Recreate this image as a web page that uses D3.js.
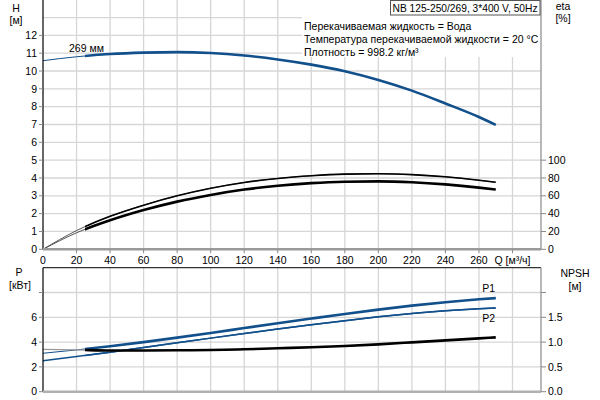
<!DOCTYPE html>
<html><head><meta charset="utf-8">
<script src="https://cdn.jsdelivr.net/npm/d3@7"></script>
<style>
html,body{margin:0;padding:0;background:#fff;}
svg{display:block;font-family:"Liberation Sans",Arial,sans-serif;font-size:10.5px;}
</style></head>
<body><svg id="c" width="600" height="400"></svg>
<script>
// ---- data ----
const flowQ   = [0,20,40,60,80,100,120,140,160,180,200,220,240,260,270];
const headH   = [10.58,10.8,10.95,11.03,11.06,11.01,10.87,10.65,10.36,9.99,9.5,8.9,8.18,7.42,6.98];
const etaTop  = [0,21,37,49.5,60,68.5,75,79.5,82.5,84.3,84.8,83.8,81.3,77.5,75.2];
const etaLow  = [0,18.5,32.5,44,53.5,61,67,71.3,74.2,75.8,76.2,75.2,72.8,69.2,67];
const powerP1 = [3.1,3.37,3.67,4.0,4.36,4.74,5.13,5.52,5.9,6.27,6.62,6.94,7.22,7.45,7.55];
const powerP2 = [2.5,2.83,3.19,3.56,3.94,4.32,4.69,5.05,5.4,5.73,6.04,6.31,6.53,6.69,6.75];
const npshR   = [0.855,0.845,0.83,0.83,0.835,0.84,0.855,0.875,0.895,0.92,0.955,0.995,1.035,1.075,1.095];
const qTicks  = [0,20,40,60,80,100,120,140,160,180,200,220,240,260];
const hTicks  = [0,1,2,3,4,5,6,7,8,9,10,11,12];
const etaTicks= [0,20,40,60,80,100];
const pTicks  = [0,2,4,6,8];
const nTicks  = [0,0.5,1.0,1.5,2.0];
const infoLines = ["Перекачиваемая жидкость = Вода","Температура перекачиваемой жидкости = 20 °C","Плотность = 998.2 кг/м³"];
const titleText = "NB 125-250/269, 3*400 V, 50Hz";
const qStart = 25; // start of operating range (thick part)

const svg = d3.select("#c");
const L=43, R=541, T1=0, B1=249.3, T2=267.7, B2=391.7;
const x  = d3.scaleLinear().domain([0,297]).range([L,R]);
const yH = d3.scaleLinear().domain([0,14]).range([B1,T1-0.3]);
const yE = d3.scaleLinear().domain([0,280]).range([B1,T1-0.3]);
const yP = d3.scaleLinear().domain([0,10]).range([B2,T2]);
const yN = d3.scaleLinear().domain([0,2.5]).range([B2,T2]);
const blue="#12508c", grid="#d6d6d6";

const defs=svg.append("defs");
defs.append("clipPath").attr("id","op").append("rect")
  .attr("x",x(qStart)).attr("y",0).attr("width",600).attr("height",400);

// ---- grids ----
const g=svg.append("g");
const qGrid=d3.range(20,281,20);
g.selectAll(".vg1").data(qGrid).join("line").attr("x1",d=>x(d)).attr("x2",d=>x(d))
  .attr("y1",T1).attr("y2",B1).attr("stroke",grid).attr("stroke-width",1.3);
g.selectAll(".hg1").data(d3.range(1,14)).join("line").attr("x1",L).attr("x2",R)
  .attr("y1",d=>yH(d)).attr("y2",d=>yH(d)).attr("stroke",grid).attr("stroke-width",1.3);
g.selectAll(".vg2").data(qGrid).join("line").attr("x1",d=>x(d)).attr("x2",d=>x(d))
  .attr("y1",T2).attr("y2",B2).attr("stroke",grid).attr("stroke-width",1.3);
g.selectAll(".hg2").data([2,4,6,8]).join("line").attr("x1",L).attr("x2",R)
  .attr("y1",d=>yP(d)).attr("y2",d=>yP(d)).attr("stroke",grid).attr("stroke-width",1.3);

svg.append("rect").attr("x",302).attr("y",0).attr("width",R-302).attr("height",57).attr("fill","#fff");

// ---- curves ----
function line(ys,ysc){
  return d3.line().x((d,i)=>x(flowQ[i])).y(d=>ysc(d)).curve(d3.curveMonotoneX)(ys);
}
function curve(ys,ysc,color,thin,thick,thinColor){
  svg.append("path").attr("d",line(ys,ysc)).attr("fill","none")
    .attr("stroke",thinColor||color).attr("stroke-width",thin);
  svg.append("path").attr("d",line(ys,ysc)).attr("fill","none")
    .attr("stroke",color).attr("stroke-width",thick).attr("clip-path","url(#op)");
}
curve(headH,yH,blue,1,2.6);
curve(etaTop,yE,"#000",0.9,1.6,"#444");
curve(etaLow,yE,"#000",0.9,2.6,"#444");
curve(powerP1,yP,blue,1,2.6);
curve(powerP2,yP,blue,1.5,1.5);
curve(npshR,yN,"#000",1.2,2.6,"#999");

// ---- axes ----
const ax=svg.append("g");
ax.append("line").attr("x1",L).attr("x2",L).attr("y1",T1).attr("y2",B1).attr("stroke","#000").attr("stroke-width",1.2);
ax.append("line").attr("x1",R).attr("x2",R).attr("y1",T1).attr("y2",B1).attr("stroke","#a0a0a0").attr("stroke-width",1.5);
ax.append("line").attr("x1",L).attr("x2",R).attr("y1",B1).attr("y2",B1).attr("stroke","#9a9a9a").attr("stroke-width",2.5);
ax.selectAll(".ht").data(hTicks).join("line").attr("x1",L-4).attr("x2",L).attr("y1",d=>yH(d)).attr("y2",d=>yH(d)).attr("stroke","#888");
ax.selectAll(".hl").data(hTicks).join("text").attr("x",L-6).attr("y",d=>yH(d)).attr("dy","0.35em")
  .attr("text-anchor","end").text(d=>d);
ax.selectAll(".et").data(etaTicks).join("line").attr("x1",R).attr("x2",R+5).attr("y1",d=>yE(d)).attr("y2",d=>yE(d)).attr("stroke","#888");
ax.selectAll(".el").data(etaTicks).join("text").attr("x",R+7).attr("y",d=>yE(d)).attr("dy","0.35em").text(d=>d);
ax.selectAll(".qt").data(qGrid).join("line").attr("x1",d=>x(d)).attr("x2",d=>x(d)).attr("y1",B1).attr("y2",B1+4).attr("stroke","#888");
ax.selectAll(".ql").data(qTicks).join("text").attr("x",d=>x(d)).attr("y",B1+11).attr("dy","0.35em")
  .attr("text-anchor","middle").text(d=>d);
ax.append("text").attr("x",x(280)).attr("y",B1+11).attr("dy","0.35em").attr("text-anchor","middle").text("Q [м³/ч]");

ax.append("line").attr("x1",L).attr("x2",R).attr("y1",T2).attr("y2",T2).attr("stroke","#333").attr("stroke-width",1.2);
ax.append("line").attr("x1",L).attr("x2",L).attr("y1",T2).attr("y2",B2).attr("stroke","#000").attr("stroke-width",1.2);
ax.append("line").attr("x1",R).attr("x2",R).attr("y1",T2).attr("y2",B2).attr("stroke","#a0a0a0").attr("stroke-width",1.5);
ax.append("line").attr("x1",L).attr("x2",R).attr("y1",B2).attr("y2",B2).attr("stroke","#b0b0b0").attr("stroke-width",2.5);
ax.selectAll(".pt").data(pTicks).join("line").attr("x1",L-4).attr("x2",L).attr("y1",d=>yP(d)).attr("y2",d=>yP(d)).attr("stroke","#888");
ax.selectAll(".pl").data(pTicks.filter(d=>d<8)).join("text").attr("x",L-6).attr("y",d=>yP(d)).attr("dy","0.35em")
  .attr("text-anchor","end").text(d=>d);
ax.selectAll(".nt").data(nTicks).join("line").attr("x1",R).attr("x2",R+5).attr("y1",d=>yN(d)).attr("y2",d=>yN(d)).attr("stroke","#888");
ax.selectAll(".nl").data(nTicks.filter(d=>d<2)).join("text").attr("x",R+7).attr("y",d=>yN(d)).attr("dy","0.35em").text(d=>d.toFixed(1));

const tt=svg.append("g").attr("text-anchor","middle");
tt.append("text").attr("x",16).attr("y",8).attr("dy","0.35em").text("H");
tt.append("text").attr("x",16).attr("y",20).attr("dy","0.35em").text("[м]");
tt.append("text").attr("x",563).attr("y",6).attr("dy","0.35em").text("eta");
tt.append("text").attr("x",563).attr("y",18).attr("dy","0.35em").text("[%]");
tt.append("text").attr("x",19).attr("y",272).attr("dy","0.35em").text("P");
tt.append("text").attr("x",20).attr("y",285).attr("dy","0.35em").text("[кВт]");
tt.append("text").attr("x",575).attr("y",273).attr("dy","0.35em").text("NPSH");
tt.append("text").attr("x",575).attr("y",286).attr("dy","0.35em").text("[м]");

svg.append("text").attr("x",x(15.5)).attr("y",yH(11.0)).attr("dy","-0.1em").text("269 мм");
svg.append("text").attr("x",x(262)).attr("y",yP(7.45)-7).text("P1");
svg.append("text").attr("x",x(262)).attr("y",yP(6.69)+10).attr("dy","0.35em").text("P2");

svg.append("rect").attr("x",390.5).attr("y",0.5).attr("width",149.5).attr("height",14.5)
  .attr("fill","#fff").attr("stroke","#555");
svg.append("text").attr("x",392.5).attr("y",8).attr("dy","0.35em")
  .attr("textLength",145).attr("lengthAdjust","spacingAndGlyphs").text(titleText);
svg.selectAll(".info").data(infoLines).join("text").attr("x",304)
  .attr("y",(d,i)=>26+i*13).attr("dy","0.35em").text(d=>d);
</script></body></html>
